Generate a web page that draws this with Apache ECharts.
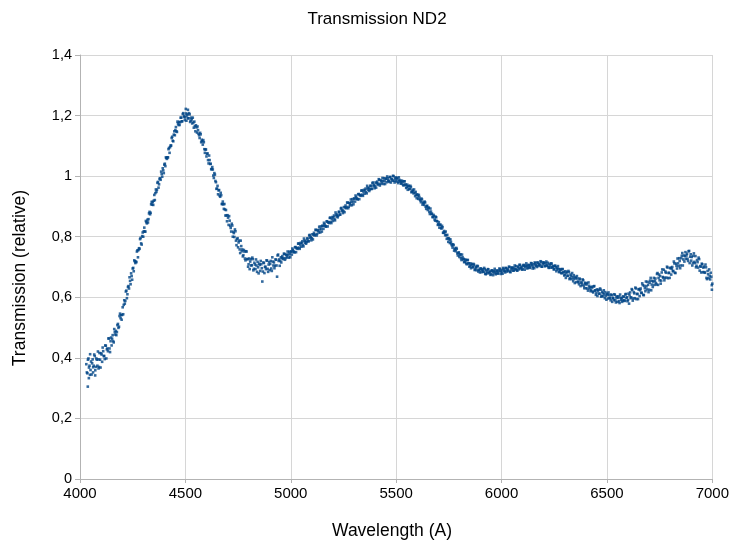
<!DOCTYPE html>
<html><head><meta charset="utf-8">
<script src="https://cdn.jsdelivr.net/npm/echarts@6/dist/echarts.min.js"></script>
<style>html,body{margin:0;padding:0;background:#fff}#c{width:732px;height:541px}</style>
</head><body><div id="c"></div>
<script>
const chartTitle = 'Transmission ND2';
const xAxisName = 'Wavelength (A)';
const yAxisName = 'Transmission (relative)';
const xTicks = [4000, 4500, 5000, 5500, 6000, 6500, 7000];
const yTicks = [0, 0.2, 0.4, 0.6, 0.8, 1, 1.2, 1.4];

// [wavelength (A), relative transmission]
const band4000 = [[4030,0.379],[4035,0.349],[4037,0.305],[4040,0.398],[4042,0.333],[4045,0.374],[4048,0.412],[4050,0.360],[4055,0.345],[4060,0.395],[4062,0.352],[4065,0.374],[4070,0.406],[4072,0.342],[4075,0.370],[4080,0.394],[4085,0.421],[4088,0.365],[4090,0.370],[4095,0.394],[4100,0.415],[4105,0.387],[4110,0.422],[4115,0.406],[4120,0.441],[4125,0.398],[4130,0.431],[4135,0.464],[4140,0.431],[4145,0.455],
[4150,0.441],[4155,0.475],[4160,0.451],[4165,0.485],[4170,0.489],[4175,0.485],[4180,0.512],[4185,0.503],[4190,0.546],[4195,0.541],[4200,0.542],[4205,0.544],[4210,0.590],[4215,0.588],[4220,0.622],[4225,0.610],[4230,0.637],[4235,0.666],[4240,0.643],[4245,0.670],[4250,0.695],[4255,0.686],[4260,0.719],[4265,0.718],[4270,0.751],[4275,0.732],[4280,0.762],[4285,0.792],[4290,0.778],[4295,0.802],
[4300,0.800],[4305,0.830],[4310,0.817],[4315,0.848],[4320,0.856],[4325,0.858],[4330,0.882],[4335,0.879],[4340,0.915],[4345,0.915],[4350,0.919],[4355,0.921],[4360,0.956],[4365,0.955],[4370,0.981],[4375,0.973],[4380,0.993],[4385,1.015],[4390,0.998],[4395,1.019],[4400,1.038],[4405,1.033],[4410,1.060],[4415,1.062],[4420,1.089],[4425,1.077],[4430,1.101],[4435,1.126],[4440,1.117],[4445,1.137],[4450,1.135],[4455,1.162],[4460,1.146],[4465,1.174],[4470,1.179],[4475,1.178],[4480,1.193],[4485,1.181],[4490,1.208],[4495,1.199]];

const band4500 = [[4500,1.194],[4502,1.222],[4505,1.183],[4510,1.205],[4512,1.219],[4515,1.191],[4520,1.204],[4525,1.183],[4530,1.187],[4535,1.193],[4540,1.160],[4545,1.165],[4550,1.168],[4555,1.144],[4560,1.152],[4565,1.135],[4570,1.143],[4575,1.112],[4580,1.115],[4585,1.119],[4590,1.089],[4595,1.088],[4600,1.065],[4605,1.075],[4610,1.042],[4615,1.053],[4620,1.041],[4625,1.023],[4630,1.022],[4635,0.994],[4640,1.005],[4645,0.980],[4650,0.959],[4655,0.940],[4660,0.954],[4665,0.932],[4670,0.937],[4675,0.908],[4680,0.907],[4685,0.908],[4690,0.870],[4695,0.870],
[4700,0.871],[4705,0.839],[4710,0.853],[4715,0.829],[4720,0.843],[4725,0.800],[4730,0.812],[4735,0.824],[4740,0.787],[4745,0.792],[4750,0.765],[4755,0.787],[4760,0.746],[4765,0.769],[4770,0.758],[4775,0.739],[4780,0.751],[4785,0.722],[4790,0.751],[4795,0.726],[4800,0.709],[4805,0.693],[4810,0.726],[4815,0.706],[4820,0.726],[4825,0.694],[4830,0.708],[4835,0.725],[4840,0.684],[4845,0.699],[4850,0.711],[4855,0.687],[4860,0.709],[4865,0.652],[4870,0.715],[4875,0.680],[4880,0.701],[4885,0.722],[4890,0.694],[4895,0.708],[4900,0.690],[4905,0.720],[4910,0.687],[4915,0.718],[4920,0.715],[4925,0.704],[4930,0.724],[4935,0.668],[4940,0.741],[4945,0.725],
[4950,0.720],[4955,0.715],[4960,0.736],[4965,0.729],[4970,0.743],[4975,0.729],[4980,0.739],[4985,0.751],[4990,0.731],[4995,0.742]];

const band5000 = [[5000,0.751],[5005,0.741],[5010,0.756],[5015,0.750],[5020,0.765],[5025,0.749],[5030,0.763],[5035,0.777],[5040,0.764],[5045,0.774],[5050,0.767],[5055,0.785],[5060,0.768],[5065,0.787],[5070,0.786],[5075,0.782],[5080,0.794],[5085,0.785],[5090,0.806],[5095,0.799],[5100,0.795],[5105,0.791],[5110,0.813],[5115,0.807],[5120,0.822],[5125,0.809],[5130,0.820],[5135,0.833],[5140,0.814],[5145,0.826],[5150,0.836],[5155,0.826],[5160,0.841],[5165,0.835],[5170,0.850],[5175,0.834],[5180,0.848],[5185,0.862],[5190,0.849],[5195,0.859],[5200,0.852],[5205,0.870],[5210,0.854],[5215,0.873],[5220,0.873],[5225,0.869],[5230,0.882],[5235,0.873],[5240,0.895],[5245,0.888],[5250,0.885],[5255,0.881],[5260,0.903],[5265,0.897],[5270,0.912],[5275,0.899],[5280,0.910],[5285,0.923],[5290,0.904],[5295,0.916],
[5300,0.926],[5305,0.916],[5310,0.931],[5315,0.925],[5320,0.940],[5325,0.924],[5330,0.938],[5335,0.952],[5340,0.939],[5345,0.949],[5350,0.942],[5355,0.959],[5360,0.943],[5365,0.961],[5370,0.961],[5375,0.956],[5380,0.968],[5385,0.958],[5390,0.979],[5395,0.971],[5400,0.967],[5405,0.962],[5410,0.982],[5415,0.975],[5420,0.988],[5425,0.974],[5430,0.983],[5435,0.994],[5440,0.974],[5445,0.984],[5450,0.992],[5455,0.980],[5460,0.993],[5465,0.984],[5470,0.997],[5475,0.979],[5480,0.990],[5485,1.001],[5490,0.985],[5495,0.992]];

const band5500 = [[5500,0.983],[5505,0.994],[5510,0.977],[5515,0.988],[5520,0.985],[5525,0.977],[5530,0.982],[5535,0.969],[5540,0.983],[5545,0.972],[5550,0.964],[5555,0.955],[5560,0.968],[5565,0.957],[5570,0.964],[5575,0.948],[5580,0.951],[5585,0.956],[5590,0.934],[5595,0.938],[5600,0.940],[5605,0.925],[5610,0.931],[5615,0.920],[5620,0.926],[5625,0.906],[5630,0.911],[5635,0.916],[5640,0.899],[5645,0.901],[5650,0.888],[5655,0.896],[5660,0.875],[5665,0.883],[5670,0.876],[5675,0.865],[5680,0.868],[5685,0.853],[5690,0.864],[5695,0.851],
[5700,0.841],[5705,0.830],[5710,0.840],[5715,0.827],[5720,0.831],[5725,0.813],[5730,0.814],[5735,0.817],[5740,0.793],[5745,0.795],[5750,0.795],[5755,0.779],[5760,0.783],[5765,0.771],[5770,0.775],[5775,0.754],[5780,0.758],[5785,0.763],[5790,0.745],[5795,0.747],[5800,0.733],[5805,0.742],[5810,0.723],[5815,0.732],[5820,0.727],[5825,0.717],[5830,0.722],[5835,0.709],[5840,0.723],[5845,0.712],[5850,0.704],[5855,0.696],[5860,0.710],[5865,0.699],[5870,0.707],[5875,0.692],[5880,0.698],[5885,0.704],[5890,0.685],[5895,0.690],[5900,0.695],[5905,0.683],[5910,0.692],[5915,0.684],[5920,0.693],[5925,0.676],[5930,0.685],[5935,0.693],[5940,0.680],[5945,0.685],[5950,0.676],[5955,0.689],[5960,0.673],[5965,0.687],[5970,0.685],[5975,0.679],[5980,0.688],[5985,0.678],[5990,0.695],[5995,0.687]];

const band6000 = [[6000,0.683],[6005,0.678],[6010,0.694],[6015,0.687],[6020,0.697],[6025,0.685],[6030,0.693],[6035,0.701],[6040,0.684],[6045,0.691],[6050,0.698],[6055,0.688],[6060,0.698],[6065,0.692],[6070,0.703],[6075,0.688],[6080,0.698],[6085,0.707],[6090,0.695],[6095,0.701],[6100,0.693],[6105,0.707],[6110,0.691],[6115,0.705],[6120,0.703],[6125,0.698],[6130,0.706],[6135,0.697],[6140,0.713],[6145,0.706],[6150,0.701],[6155,0.696],[6160,0.712],[6165,0.705],[6170,0.715],[6175,0.703],[6180,0.710],[6185,0.719],[6190,0.701],[6195,0.709],[6200,0.715],[6205,0.703],[6210,0.712],[6215,0.705],[6220,0.714],[6225,0.697],[6230,0.705],[6235,0.712],[6240,0.698],[6245,0.703],[6250,0.693],[6255,0.704],[6260,0.686],[6265,0.697],[6270,0.693],[6275,0.685],[6280,0.691],[6285,0.679],[6290,0.693],[6295,0.683],
[6300,0.674],[6305,0.664],[6310,0.684],[6315,0.671],[6320,0.683],[6325,0.663],[6330,0.671],[6335,0.680],[6340,0.653],[6345,0.661],[6350,0.667],[6355,0.650],[6360,0.662],[6365,0.650],[6370,0.662],[6375,0.637],[6380,0.648],[6385,0.659],[6390,0.638],[6395,0.645],[6400,0.630],[6405,0.646],[6410,0.622],[6415,0.638],[6420,0.633],[6425,0.623],[6430,0.632],[6435,0.616],[6440,0.637],[6445,0.623],[6450,0.614],[6455,0.604],[6460,0.625],[6465,0.612],[6470,0.625],[6475,0.605],[6480,0.614],[6485,0.623],[6490,0.597],[6495,0.605]];

const band6500 = [[6500,0.612],[6505,0.596],[6510,0.608],[6515,0.597],[6520,0.609],[6525,0.585],[6530,0.597],[6535,0.610],[6540,0.590],[6545,0.599],[6550,0.585],[6555,0.603],[6560,0.581],[6565,0.599],[6570,0.597],[6575,0.589],[6580,0.601],[6585,0.588],[6590,0.611],[6595,0.600],
[6600,0.591],[6605,0.579],[6610,0.616],[6615,0.600],[6620,0.624],[6625,0.596],[6630,0.613],[6635,0.632],[6640,0.594],[6645,0.611],[6650,0.626],[6655,0.604],[6660,0.629],[6665,0.615],[6670,0.640],[6675,0.607],[6680,0.630],[6685,0.652],[6690,0.626],[6695,0.641],[6700,0.625],[6705,0.655],[6710,0.623],[6715,0.654],[6720,0.652],[6725,0.641],[6730,0.662],[6735,0.642],[6740,0.680],[6745,0.664],[6750,0.656],[6755,0.645],[6760,0.682],[6765,0.667],[6770,0.691],[6775,0.664],[6780,0.681],[6785,0.701],[6790,0.663],[6795,0.681],[6800,0.696],[6805,0.675],[6810,0.700],[6815,0.687],[6820,0.712],[6825,0.680],[6830,0.704],[6835,0.728],[6840,0.703],[6845,0.720],[6850,0.705],[6855,0.737],[6860,0.705],[6865,0.738],[6870,0.736],[6875,0.727],[6880,0.744],[6885,0.720],[6890,0.753],[6895,0.734],
[6900,0.721],[6905,0.705],[6910,0.737],[6915,0.717],[6920,0.736],[6925,0.704],[6930,0.716],[6935,0.731],[6940,0.688],[6945,0.701],[6950,0.711],[6955,0.683],[6960,0.701],[6965,0.681],[6970,0.699],[6975,0.660],[6980,0.676],[6985,0.692],[6990,0.659],[6995,0.668],[6998,0.625],[7000,0.645]];

// second set of samples, between the first ones
const mid4000 = [[4032.5,0.352],[4037.5,0.394],[4042.5,0.368],[4047.5,0.344],[4052.5,0.388],[4057.5,0.382],[4062.5,0.369],[4067.5,0.411],[4072.5,0.359],[4077.5,0.398],[4082.5,0.374],[4087.5,0.395],[4092.5,0.416],[4097.5,0.368],[4102.5,0.411],[4107.5,0.434],[4112.5,0.406],[4117.5,0.396],[4122.5,0.440],[4127.5,0.428],[4132.5,0.422],[4137.5,0.464],[4142.5,0.419],[4147.5,0.467],
[4152.5,0.463],[4157.5,0.455],[4162.5,0.495],[4167.5,0.477],[4172.5,0.475],[4177.5,0.508],[4182.5,0.499],[4187.5,0.538],[4192.5,0.531],[4197.5,0.526],[4202.5,0.567],[4207.5,0.575],[4212.5,0.579],[4217.5,0.619],[4222.5,0.597],[4227.5,0.634],[4232.5,0.629],[4237.5,0.654],[4242.5,0.679],[4247.5,0.658],[4252.5,0.697],[4257.5,0.722],[4262.5,0.713],[4267.5,0.716],[4272.5,0.755],[4277.5,0.756],[4282.5,0.760],[4287.5,0.796],[4292.5,0.774],[4297.5,0.814],
[4302.5,0.818],[4307.5,0.817],[4312.5,0.852],[4317.5,0.844],[4322.5,0.847],[4327.5,0.877],[4332.5,0.874],[4337.5,0.907],[4342.5,0.906],[4347.5,0.905],[4352.5,0.938],[4357.5,0.944],[4362.5,0.948],[4367.5,0.978],[4372.5,0.962],[4377.5,0.991],[4382.5,0.988],[4387.5,1.007],[4392.5,1.026],[4397.5,1.010],[4402.5,1.041],[4407.5,1.062],[4412.5,1.057],[4417.5,1.062],[4422.5,1.093],[4427.5,1.096],[4432.5,1.101],[4437.5,1.130],[4442.5,1.115],[4447.5,1.148],[4452.5,1.152],[4457.5,1.148],[4462.5,1.180],[4467.5,1.169],[4472.5,1.169],[4477.5,1.193],[4482.5,1.181],[4487.5,1.205],[4492.5,1.195],[4497.5,1.185]];

const mid4500 = [[4502.5,1.207],[4507.5,1.200],[4512.5,1.191],[4517.5,1.208],[4522.5,1.179],[4527.5,1.193],[4532.5,1.174],[4537.5,1.177],[4542.5,1.180],[4547.5,1.148],[4552.5,1.161],[4557.5,1.164],[4562.5,1.140],[4567.5,1.126],[4572.5,1.138],[4577.5,1.120],[4582.5,1.104],[4587.5,1.112],[4592.5,1.077],[4597.5,1.088],[4602.5,1.074],[4607.5,1.053],[4612.5,1.068],[4617.5,1.040],[4622.5,1.023],[4627.5,1.030],[4632.5,1.002],[4637.5,1.010],[4642.5,0.984],[4647.5,0.958],[4652.5,0.968],[4657.5,0.953],[4662.5,0.936],[4667.5,0.945],[4672.5,0.908],[4677.5,0.916],[4682.5,0.892],[4687.5,0.890],[4692.5,0.888],[4697.5,0.851],
[4702.5,0.863],[4707.5,0.868],[4712.5,0.836],[4717.5,0.817],[4722.5,0.837],[4727.5,0.816],[4732.5,0.799],[4737.5,0.818],[4742.5,0.772],[4747.5,0.795],[4752.5,0.781],[4757.5,0.758],[4762.5,0.787],[4767.5,0.752],[4772.5,0.735],[4777.5,0.756],[4782.5,0.728],[4787.5,0.752],[4792.5,0.726],[4797.5,0.701],[4802.5,0.728],[4807.5,0.718],[4812.5,0.705],[4817.5,0.731],[4822.5,0.689],[4827.5,0.714],[4832.5,0.693],[4837.5,0.705],[4842.5,0.717],[4847.5,0.679],[4852.5,0.707],[4857.5,0.720],[4862.5,0.696],[4867.5,0.685],[4872.5,0.713],[4877.5,0.700],[4882.5,0.693],[4887.5,0.721],[4892.5,0.684],[4897.5,0.716],[4902.5,0.710],[4907.5,0.695],[4912.5,0.732],[4917.5,0.705],[4922.5,0.696],[4927.5,0.725],[4932.5,0.705],[4937.5,0.738],[4942.5,0.720],[4947.5,0.704],
[4952.5,0.732],[4957.5,0.730],[4962.5,0.726],[4967.5,0.744],[4972.5,0.724],[4977.5,0.741],[4982.5,0.732],[4987.5,0.741],[4992.5,0.750],[4997.5,0.732]];

const mid5000 = [[5002.5,0.751],[5007.5,0.761],[5012.5,0.751],[5017.5,0.748],[5022.5,0.766],[5027.5,0.762],[5032.5,0.760],[5037.5,0.778],[5042.5,0.760],[5047.5,0.780],[5052.5,0.779],[5057.5,0.772],[5062.5,0.794],[5067.5,0.780],[5072.5,0.777],[5077.5,0.794],[5082.5,0.785],[5087.5,0.804],[5092.5,0.796],[5097.5,0.788],[5102.5,0.808],[5107.5,0.807],[5112.5,0.804],[5117.5,0.823],[5122.5,0.804],[5127.5,0.822],[5132.5,0.814],[5137.5,0.824],[5142.5,0.834],[5147.5,0.817],[5152.5,0.836],[5157.5,0.846],[5162.5,0.836],[5167.5,0.833],[5172.5,0.851],[5177.5,0.847],[5182.5,0.845],[5187.5,0.863],[5192.5,0.845],[5197.5,0.865],[5202.5,0.864],[5207.5,0.858],[5212.5,0.880],[5217.5,0.867],[5222.5,0.864],[5227.5,0.882],[5232.5,0.873],[5237.5,0.893],[5242.5,0.885],[5247.5,0.878],[5252.5,0.898],[5257.5,0.897],[5262.5,0.894],[5267.5,0.913],[5272.5,0.894],[5277.5,0.912],[5282.5,0.904],[5287.5,0.914],[5292.5,0.924],[5297.5,0.907],
[5302.5,0.926],[5307.5,0.936],[5312.5,0.926],[5317.5,0.923],[5322.5,0.941],[5327.5,0.937],[5332.5,0.935],[5337.5,0.953],[5342.5,0.935],[5347.5,0.955],[5352.5,0.953],[5357.5,0.947],[5362.5,0.968],[5367.5,0.955],[5372.5,0.951],[5377.5,0.968],[5382.5,0.958],[5387.5,0.977],[5392.5,0.968],[5397.5,0.960],[5402.5,0.979],[5407.5,0.977],[5412.5,0.972],[5417.5,0.990],[5422.5,0.969],[5427.5,0.986],[5432.5,0.976],[5437.5,0.984],[5442.5,0.993],[5447.5,0.974],[5452.5,0.991],[5457.5,0.999],[5462.5,0.986],[5467.5,0.981],[5472.5,0.997],[5477.5,0.990],[5482.5,0.985],[5487.5,1.000],[5492.5,0.979],[5497.5,0.996]];

const mid5500 = [[5502.5,0.991],[5507.5,0.982],[5512.5,0.996],[5517.5,0.982],[5522.5,0.975],[5527.5,0.985],[5532.5,0.972],[5537.5,0.983],[5542.5,0.972],[5547.5,0.961],[5552.5,0.972],[5557.5,0.966],[5562.5,0.958],[5567.5,0.968],[5572.5,0.947],[5577.5,0.955],[5582.5,0.943],[5587.5,0.945],[5592.5,0.948],[5597.5,0.927],[5602.5,0.936],[5607.5,0.938],[5612.5,0.923],[5617.5,0.914],[5622.5,0.923],[5627.5,0.913],[5632.5,0.905],[5637.5,0.913],[5642.5,0.892],[5647.5,0.902],[5652.5,0.895],[5657.5,0.882],[5662.5,0.893],[5667.5,0.875],[5672.5,0.865],[5677.5,0.872],[5682.5,0.857],[5687.5,0.866],[5692.5,0.852],[5697.5,0.839],
[5702.5,0.848],[5707.5,0.839],[5712.5,0.829],[5717.5,0.836],[5722.5,0.813],[5727.5,0.819],[5732.5,0.805],[5737.5,0.805],[5742.5,0.806],[5747.5,0.783],[5752.5,0.791],[5757.5,0.791],[5762.5,0.775],[5767.5,0.764],[5772.5,0.772],[5777.5,0.761],[5782.5,0.752],[5787.5,0.760],[5792.5,0.738],[5797.5,0.748],[5802.5,0.740],[5807.5,0.729],[5812.5,0.741],[5817.5,0.725],[5822.5,0.716],[5827.5,0.725],[5832.5,0.712],[5837.5,0.723],[5842.5,0.712],[5847.5,0.701],[5852.5,0.712],[5857.5,0.707],[5862.5,0.700],[5867.5,0.710],[5872.5,0.690],[5877.5,0.701],[5882.5,0.689],[5887.5,0.702],[5892.5,0.691],[5897.5,0.682],[5902.5,0.695],[5907.5,0.691],[5912.5,0.685],[5917.5,0.697],[5922.5,0.678],[5927.5,0.689],[5932.5,0.679],[5937.5,0.692],[5942.5,0.683],[5947.5,0.674],[5952.5,0.688],[5957.5,0.685],[5962.5,0.680],[5967.5,0.694],[5972.5,0.676],[5977.5,0.688],[5982.5,0.680],[5987.5,0.687],[5992.5,0.693],[5997.5,0.677]];

const mid6000 = [[6002.5,0.690],[6007.5,0.697],[6012.5,0.687],[6017.5,0.682],[6022.5,0.696],[6027.5,0.690],[6032.5,0.687],[6037.5,0.700],[6042.5,0.683],[6047.5,0.698],[6052.5,0.695],[6057.5,0.688],[6062.5,0.705],[6067.5,0.693],[6072.5,0.689],[6077.5,0.701],[6082.5,0.692],[6087.5,0.707],[6092.5,0.698],[6097.5,0.691],[6102.5,0.705],[6107.5,0.703],[6112.5,0.699],[6117.5,0.712],[6122.5,0.695],[6127.5,0.707],[6132.5,0.699],[6137.5,0.705],[6142.5,0.712],[6147.5,0.695],[6152.5,0.709],[6157.5,0.715],[6162.5,0.705],[6167.5,0.700],[6172.5,0.714],[6177.5,0.708],[6182.5,0.705],[6187.5,0.717],[6192.5,0.701],[6197.5,0.715],[6202.5,0.712],[6207.5,0.703],[6212.5,0.718],[6217.5,0.705],[6222.5,0.699],[6227.5,0.710],[6232.5,0.698],[6237.5,0.711],[6242.5,0.701],[6247.5,0.692],[6252.5,0.704],[6257.5,0.699],[6262.5,0.692],[6267.5,0.703],[6272.5,0.683],[6277.5,0.693],[6282.5,0.681],[6287.5,0.693],[6292.5,0.682],[6297.5,0.672],
[6302.5,0.686],[6307.5,0.680],[6312.5,0.671],[6317.5,0.687],[6322.5,0.660],[6327.5,0.675],[6332.5,0.660],[6337.5,0.666],[6342.5,0.673],[6347.5,0.647],[6352.5,0.663],[6357.5,0.670],[6362.5,0.652],[6367.5,0.643],[6372.5,0.659],[6377.5,0.649],[6382.5,0.641],[6387.5,0.656],[6392.5,0.630],[6397.5,0.648],[6402.5,0.642],[6407.5,0.629],[6412.5,0.649],[6417.5,0.629],[6422.5,0.620],[6427.5,0.635],[6432.5,0.619],[6437.5,0.636],[6442.5,0.622],[6447.5,0.608],[6452.5,0.626],[6457.5,0.621],[6462.5,0.612],[6467.5,0.629],[6472.5,0.602],[6477.5,0.618],[6482.5,0.603],[6487.5,0.610],[6492.5,0.617],[6497.5,0.592]];

const mid6500 = [[6502.5,0.609],[6507.5,0.616],[6512.5,0.599],[6517.5,0.590],[6522.5,0.607],[6527.5,0.598],[6532.5,0.591],[6537.5,0.608],[6542.5,0.583],[6547.5,0.603],[6552.5,0.598],[6557.5,0.587],[6562.5,0.609],[6567.5,0.592],[6572.5,0.585],[6577.5,0.603],[6582.5,0.590],[6587.5,0.609],[6592.5,0.598],[6597.5,0.587],
[6602.5,0.612],[6607.5,0.606],[6612.5,0.597],[6617.5,0.627],[6622.5,0.589],[6627.5,0.617],[6632.5,0.597],[6637.5,0.629],[6642.5,0.611],[6647.5,0.594],[6652.5,0.627],[6657.5,0.623],[6662.5,0.614],[6667.5,0.646],[6672.5,0.608],[6677.5,0.638],[6682.5,0.620],[6687.5,0.636],[6692.5,0.651],[6697.5,0.617],[6702.5,0.648],[6707.5,0.664],[6712.5,0.642],[6717.5,0.634],[6722.5,0.664],[6727.5,0.654],[6732.5,0.647],[6737.5,0.677],[6742.5,0.641],[6747.5,0.675],[6752.5,0.670],[6757.5,0.655],[6762.5,0.692],[6767.5,0.665],[6772.5,0.656],[6777.5,0.685],[6782.5,0.665],[6787.5,0.698],[6792.5,0.680],[6797.5,0.664],[6802.5,0.698],[6807.5,0.694],[6812.5,0.686],[6817.5,0.718],[6822.5,0.681],[6827.5,0.711],[6832.5,0.695],[6837.5,0.712],[6842.5,0.729],[6847.5,0.696],[6852.5,0.729],[6857.5,0.746],[6862.5,0.725],[6867.5,0.718],[6872.5,0.749],[6877.5,0.738],[6882.5,0.727],[6887.5,0.752],[6892.5,0.713],[6897.5,0.742],
[6902.5,0.733],[6907.5,0.713],[6912.5,0.745],[6917.5,0.713],[6922.5,0.699],[6927.5,0.723],[6932.5,0.698],[6937.5,0.726],[6942.5,0.703],[6947.5,0.682],[6952.5,0.709],[6957.5,0.698],[6962.5,0.683],[6967.5,0.708],[6972.5,0.664],[6977.5,0.687],[6982.5,0.663],[6987.5,0.671],[6992.5,0.681],[6997.5,0.640]];

const points = [].concat(band4000, band4500, band5000, band5500, band6000, band6500,
  mid4000, mid4500, mid5000, mid5500, mid6000, mid6500);

const font = 'Liberation Sans, Arial, sans-serif';
const fmt = (list, v) => {
  const t = list.find(k => Math.abs(k - v) < 1e-6);
  return String(t !== undefined ? t : v).replace('.', ',');
};
const chart = echarts.init(document.getElementById('c'), null, {renderer: 'canvas'});
chart.setOption({
  animation: false,
  backgroundColor: '#ffffff',
  graphic: [
    {type: 'text', x: 377, y: 19, silent: true,
      style: {text: chartTitle, textAlign: 'center', textVerticalAlign: 'middle',
        font: '17px ' + font, fill: '#000'}},
    {type: 'text', x: 392, y: 531, silent: true,
      style: {text: xAxisName, textAlign: 'center', textVerticalAlign: 'middle',
        font: '17.5px ' + font, fill: '#000'}},
    {type: 'text', x: 20, y: 278, rotation: Math.PI / 2, silent: true,
      style: {text: yAxisName, textAlign: 'center', textVerticalAlign: 'middle',
        font: '17.5px ' + font, fill: '#000'}}
  ],
  grid: {left: 80, right: 19, top: 55, bottom: 62},
  xAxis: {
    type: 'value', min: 4000, max: 7000, interval: 500,
    axisLine: {lineStyle: {color: '#b3b3b3'}},
    axisTick: {show: true, length: 4, lineStyle: {color: '#b3b3b3'}},
    axisLabel: {fontFamily: font, fontSize: 15, color: '#000', margin: 7,
      formatter: v => fmt(xTicks, v)},
    splitLine: {show: true, lineStyle: {color: '#d6d6d6'}}
  },
  yAxis: {
    type: 'value', min: 0, max: 1.4, interval: 0.2,
    axisLine: {show: true, lineStyle: {color: '#b3b3b3'}},
    axisTick: {show: true, length: 5, lineStyle: {color: '#b3b3b3'}},
    axisLabel: {fontFamily: font, fontSize: 14.5, color: '#000', margin: 8,
      formatter: v => fmt(yTicks, v)},
    splitLine: {show: true, lineStyle: {color: '#d6d6d6'}}
  },
  series: [{
    type: 'scatter', data: points, symbol: 'rect', symbolSize: 2.6,
    itemStyle: {color: '#004586'}
  }]
});
</script>
</body></html>
